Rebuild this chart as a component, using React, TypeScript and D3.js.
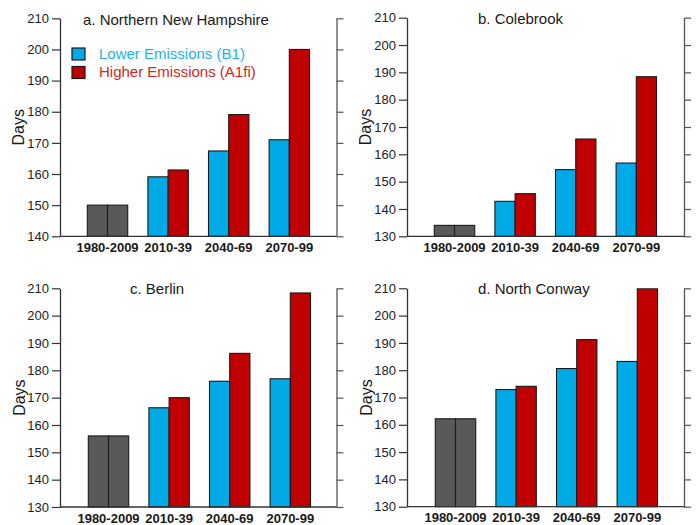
import { useEffect, useRef } from 'react';
import * as d3 from 'd3';

const periods = ['1980-2009', '2010-39', '2040-69', '2070-99'];
const series = ['B1', 'A1fi'];

// first period is the observed baseline (gray, drawn twice)
const northernNHLower = [150, 159.1, 167.4, 171.0];
const northernNHHigher = [150, 161.3, 179.1, 200.0];
const colebrookLower = [134, 142.8, 154.4, 156.8];
const colebrookHigher = [134, 145.6, 165.6, 188.4];
const berlinLower = [156, 166.3, 176.0, 176.9];
const berlinHigher = [156, 170.0, 186.2, 208.3];
const northConwayLower = [162.2, 172.9, 180.6, 183.2];
const northConwayHigher = [162.2, 174.1, 191.2, 209.8];

const ticksA = [140, 150, 160, 170, 180, 190, 200, 210];
const ticksB = [130, 140, 150, 160, 170, 180, 190, 200, 210];

const BLUE = '#00aae7';
const RED = '#c00000';
const GRAY = '#58595b';

const panels = [
  { title: 'a. Northern New Hampshire', lower: northernNHLower, higher: northernNHHigher, ticks: ticksA,
    left: 60, right: 336.5, top: 18.3, bottom: 236.3, barStart: 87.3, titleX: 83, titleY: 24.5, daysX: 24, legend: true },
  { title: 'b. Colebrook', lower: colebrookLower, higher: colebrookHigher, ticks: ticksB,
    left: 407, right: 684, top: 17.7, bottom: 236.3, barStart: 434.3, titleX: 478, titleY: 23.5, daysX: 371, legend: false },
  { title: 'c. Berlin', lower: berlinLower, higher: berlinHigher, ticks: ticksB,
    left: 60, right: 336.5, top: 288.3, bottom: 507, barStart: 88.3, titleX: 130, titleY: 293.5, daysX: 25, legend: false },
  { title: 'd. North Conway', lower: northConwayLower, higher: northConwayHigher, ticks: ticksB,
    left: 407, right: 684, top: 288.3, bottom: 506.7, barStart: 435.3, titleX: 478, titleY: 293.5, daysX: 371.5, legend: false },
];

const App = () => {
  const svgRef = useRef<SVGSVGElement>(null);

  useEffect(() => {
    if (!svgRef.current) return;
    const root = d3.select(svgRef.current);
    root.selectAll('*').remove();
    const font = 'Liberation Sans, Arial, Helvetica, sans-serif';

    panels.forEach(p => {
      const g = root.append('g');
      const ticks = p.ticks;
      const y = d3.scaleLinear()
        .domain([ticks[0], ticks[ticks.length - 1]])
        .range([p.bottom, p.top]);

      const step = 60.6;
      const x = d3.scaleBand<string>()
        .domain(periods)
        .range([p.barStart, p.barStart + step * (periods.length - 0.333)])
        .paddingInner(0.333)
        .paddingOuter(0);
      const xs = d3.scaleBand<string>().domain(series).range([0, x.bandwidth()]);

      // bars
      periods.forEach((period, i) => {
        const vals = [p.lower[i], p.higher[i]];
        series.forEach((s, j) => {
          const fill = i === 0 ? GRAY : (j === 0 ? BLUE : RED);
          g.append('rect')
            .attr('x', (x(period) as number) + (xs(s) as number))
            .attr('y', y(vals[j]))
            .attr('width', xs.bandwidth())
            .attr('height', p.bottom - y(vals[j]))
            .attr('fill', fill)
            .attr('stroke', '#1a1a1a')
            .attr('stroke-width', 1.1);
        });
      });

      // left axis
      g.append('g')
        .attr('transform', `translate(${p.left},0)`)
        .call(d3.axisLeft(y).tickValues(ticks).tickSize(8).tickSizeOuter(0).tickPadding(3))
        .call(a => a.select('.domain').attr('stroke', '#333').attr('stroke-width', 1.3))
        .call(a => a.selectAll('.tick line').attr('stroke', '#333').attr('stroke-width', 1.2))
        .call(a => a.selectAll('.tick text')
          .attr('fill', '#222').style('font-family', font).style('font-size', '13px'));

      // right axis, no labels
      g.append('g')
        .attr('transform', `translate(${p.right},0)`)
        .call(d3.axisRight(y).tickValues(ticks).tickSize(7).tickSizeOuter(0).tickFormat(() => ''))
        .call(a => a.select('.domain').attr('stroke', '#555').attr('stroke-width', 1.3))
        .call(a => a.selectAll('.tick line').attr('stroke', '#555').attr('stroke-width', 1.2));

      // bottom axis line
      g.append('line')
        .attr('x1', p.left).attr('x2', p.right)
        .attr('y1', p.bottom).attr('y2', p.bottom)
        .attr('stroke', '#333').attr('stroke-width', 1.3);

      // category labels
      g.selectAll('text.cat')
        .data(periods)
        .enter()
        .append('text')
        .attr('class', 'cat')
        .attr('x', d => (x(d) as number) + x.bandwidth() / 2)
        .attr('y', p.bottom + 15.5)
        .attr('text-anchor', 'middle')
        .style('font-family', font)
        .style('font-size', '13px')
        .style('font-weight', 'bold')
        .attr('fill', '#1a1a1a')
        .text(d => d);

      g.append('text')
        .attr('x', p.titleX)
        .attr('y', p.titleY)
        .style('font-family', font)
        .style('font-size', '15px')
        .attr('fill', '#1a1a1a')
        .text(p.title);

      g.append('text')
        .attr('transform', `translate(${p.daysX},${(p.top + p.bottom) / 2}) rotate(-90)`)
        .attr('text-anchor', 'middle')
        .style('font-family', font)
        .style('font-size', '16px')
        .attr('fill', '#1a1a1a')
        .text('Days');

      if (p.legend) {
        const items = [
          { color: BLUE, text: '#1cb2e8', label: 'Lower Emissions (B1)' },
          { color: RED, text: '#d42626', label: 'Higher Emissions (A1fi)' },
        ];
        items.forEach((it, i) => {
          g.append('rect')
            .attr('x', 72).attr('y', 48 + i * 18.5)
            .attr('width', 13).attr('height', 12)
            .attr('fill', it.color)
            .attr('stroke', '#1a1a1a').attr('stroke-width', 1.2);
          g.append('text')
            .attr('x', 99).attr('y', 58.8 + i * 18.5)
            .style('font-family', font)
            .style('font-size', '15px')
            .attr('fill', it.text)
            .text(it.label);
        });
      }
    });
  }, []);

  return (
    <div style={{ position: 'absolute', left: 0, top: 0, background: '#fff' }}>
      <svg ref={svgRef} width={699} height={525}></svg>
    </div>
  );
};

export default App;
